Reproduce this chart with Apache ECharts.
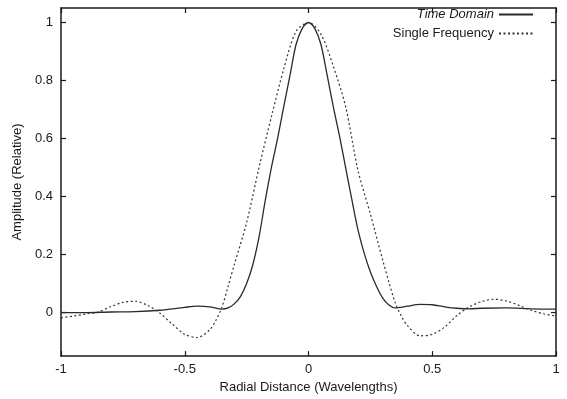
<!DOCTYPE html>
<html>
<head>
<meta charset="utf-8">
<script src="https://cdn.jsdelivr.net/npm/echarts@6/dist/echarts.min.js"></script>
<style>
  html, body { margin: 0; padding: 0; background: #fff; }
  #chart { width: 567px; height: 399px; }
</style>
</head>
<body>
<div id="chart"></div>
<script>
// radial distance (wavelengths) for each curve
const timeDomainX = [-1, -0.9, -0.8, -0.7, -0.6, -0.5, -0.45, -0.4, -0.35,
  -0.325, -0.3, -0.275, -0.25, -0.225, -0.2, -0.175, -0.15, -0.125, -0.1, -0.075, -0.05, -0.025, 0,
  0.025, 0.05, 0.075, 0.1, 0.125, 0.15, 0.175, 0.2, 0.225, 0.25, 0.275, 0.3, 0.325,
  0.35, 0.4, 0.45, 0.5, 0.55, 0.6, 0.65, 0.7, 0.8, 0.9, 1];
const timeDomainY = [0, 0, 0.002, 0.003, 0.008, 0.018, 0.022, 0.02, 0.012,
  0.016, 0.03, 0.055, 0.1, 0.165, 0.26, 0.385, 0.5, 0.6, 0.71, 0.817, 0.925, 0.98, 1,
  0.98, 0.925, 0.82, 0.71, 0.61, 0.5, 0.39, 0.285, 0.205, 0.14, 0.09, 0.05, 0.026,
  0.016, 0.022, 0.028, 0.027, 0.02, 0.015, 0.013, 0.015, 0.016, 0.013, 0.012];

const singleFreqX = [-1, -0.95, -0.9, -0.85, -0.8, -0.75, -0.7, -0.65, -0.6, -0.55, -0.5, -0.45, -0.4, -0.375, -0.35, -0.325, -0.3, -0.25, -0.2, -0.15, -0.1, -0.05, 0,
  0.05, 0.1, 0.15, 0.2, 0.25, 0.3, 0.325, 0.35, 0.375, 0.4, 0.45, 0.5, 0.55, 0.6, 0.65, 0.7, 0.75, 0.8, 0.85, 0.9, 0.95, 1];
const singleFreqY = [-0.018, -0.012, -0.005, 0.002, 0.02, 0.035, 0.039, 0.025, -0.002, -0.04, -0.075, -0.086, -0.06, -0.028, 0.018, 0.09, 0.165, 0.31, 0.5, 0.675, 0.84, 0.97, 1,
  0.96, 0.85, 0.71, 0.49, 0.34, 0.18, 0.105, 0.035, -0.012, -0.045, -0.08, -0.075, -0.05, -0.01, 0.02, 0.038, 0.046, 0.04, 0.025, 0.008, -0.004, -0.012];

const yTicks = [0, 0.2, 0.4, 0.6, 0.8, 1];

const FONT = "Liberation Sans";
const INK = "#1a1a1a";

function pairs(xs, ys) {
  return xs.map((x, i) => [x, ys[i]]);
}

function fmt(v) {
  // gnuplot style: "0.5", "-0.5", "1", "0"
  return String(Math.round(v * 10) / 10);
}

const boxLine = { show: true, onZero: false, lineStyle: { color: INK, width: 1.5 } };
const boxTick = { show: true, inside: true, length: 5, lineStyle: { color: INK, width: 1.2 } };

const chart = echarts.init(document.getElementById("chart"), null, { renderer: "canvas" });

chart.setOption({
  animation: false,
  backgroundColor: "#fff",
  grid: { left: 61, right: 11, top: 8, bottom: 39, containLabel: false },
  legend: {
    orient: "vertical",
    right: 28,
    top: 3,
    align: "right",
    itemWidth: 34,
    itemHeight: 10,
    itemGap: 6,
    itemStyle: { opacity: 0 },
    data: ["Time Domain", "Single Frequency"],
    formatter: (name) => (name === "Time Domain" ? "{i|" + name + "}" : name),
    textStyle: {
      fontFamily: FONT,
      fontSize: 13,
      color: INK,
      rich: { i: { fontStyle: "italic", fontFamily: FONT, fontSize: 13, color: INK } },
    },
  },
  xAxis: [
    {
      type: "value",
      min: -1,
      max: 1,
      interval: 0.5,
      position: "bottom",
      name: "Radial Distance (Wavelengths)",
      nameLocation: "middle",
      nameGap: 20,
      nameTextStyle: { fontFamily: FONT, fontSize: 13, color: INK },
      axisLine: boxLine,
      axisTick: boxTick,
      splitLine: { show: false },
      axisLabel: { fontFamily: FONT, fontSize: 13, color: INK, margin: 7, formatter: fmt },
    },
    {
      type: "value",
      min: -1,
      max: 1,
      interval: 0.5,
      position: "top",
      axisLine: boxLine,
      axisTick: boxTick,
      splitLine: { show: false },
      axisLabel: { show: false },
    },
  ],
  yAxis: [
    {
      type: "value",
      min: -0.15,
      max: 1.05,
      position: "left",
      name: "Amplitude (Relative)",
      nameLocation: "middle",
      nameGap: 28,
      nameRotate: 90,
      nameTextStyle: { fontFamily: FONT, fontSize: 13, color: INK },
      axisLine: boxLine,
      axisTick: Object.assign({}, boxTick, { customValues: yTicks }),
      splitLine: { show: false },
      axisLabel: { fontFamily: FONT, fontSize: 13, color: INK, margin: 8, customValues: yTicks, formatter: fmt },
    },
    {
      type: "value",
      min: -0.15,
      max: 1.05,
      position: "right",
      axisLine: boxLine,
      axisTick: Object.assign({}, boxTick, { customValues: yTicks }),
      splitLine: { show: false },
      axisLabel: { show: false },
    },
  ],
  series: [
    {
      name: "Time Domain",
      type: "line",
      data: pairs(timeDomainX, timeDomainY),
      smooth: 0.3,
      symbol: "none",
      lineStyle: { color: "#2a2a2a", width: 1.3 },
      itemStyle: { color: "#2a2a2a" },
    },
    {
      name: "Single Frequency",
      type: "line",
      data: pairs(singleFreqX, singleFreqY),
      smooth: 0.3,
      symbol: "none",
      lineStyle: { color: "#333", width: 1.2, type: [2, 2.5] },
      itemStyle: { color: "#333" },
    },
  ],
});
</script>
</body>
</html>
